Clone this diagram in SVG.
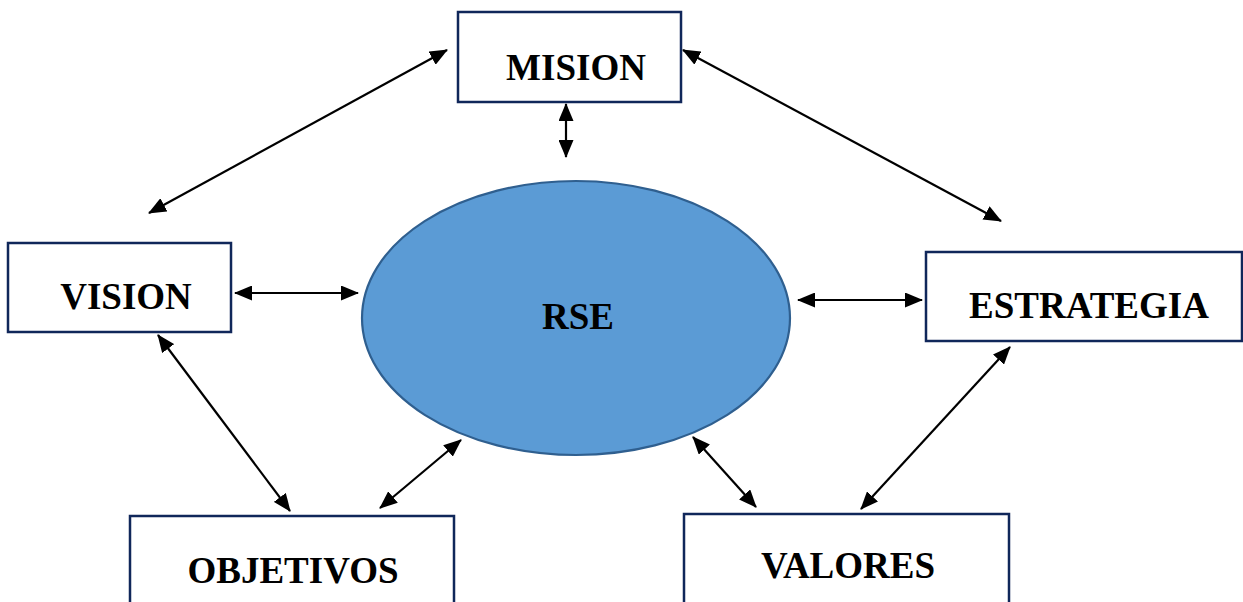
<svg xmlns="http://www.w3.org/2000/svg" width="1243" height="602" viewBox="0 0 1243 602">
<style>
.box{fill:#fff;stroke:#10275A;stroke-width:2.5}
.lbl{font-family:"Liberation Serif","Times New Roman",serif;font-weight:bold;font-size:37px;fill:#000;text-anchor:middle}
.con{stroke:#000;stroke-width:2.2;fill:none;marker-start:url(#ah);marker-end:url(#ah)}
</style>
<defs>
<marker id="ah" markerUnits="userSpaceOnUse" markerWidth="18" markerHeight="15" refX="17" refY="7.5" orient="auto-start-reverse" viewBox="0 0 18 15">
<path d="M0,0 L18,7.5 L0,15 z" fill="#000"/>
</marker>
</defs>
<g id="rse">
<ellipse cx="576" cy="318" rx="214" ry="137" fill="#5B9BD5" stroke="#2F5F8F" stroke-width="2.2"/>
<text class="lbl" x="578" y="329" font-size="35">RSE</text>
</g>
<g id="mision">
<rect class="box" x="458" y="12" width="223" height="90"/>
<text class="lbl" x="576" y="80">MISION</text>
</g>
<g id="vision">
<rect class="box" x="8" y="243" width="223" height="89"/>
<text class="lbl" x="126" y="309">VISION</text>
</g>
<g id="estrategia">
<rect class="box" x="926" y="252" width="316" height="89"/>
<text class="lbl" x="1089" y="318">ESTRATEGIA</text>
</g>
<g id="objetivos">
<rect class="box" x="130" y="516" width="324" height="100"/>
<text class="lbl" x="293" y="583">OBJETIVOS</text>
</g>
<g id="valores">
<rect class="box" x="684" y="514" width="325" height="100"/>
<text class="lbl" x="848" y="578">VALORES</text>
</g>
<g id="connectors">
<line class="con" x1="447" y1="50" x2="149" y2="213"/>
<line class="con" x1="683" y1="50" x2="1001" y2="221"/>
<line class="con" x1="566" y1="104" x2="566" y2="157"/>
<line class="con" x1="235" y1="293" x2="358" y2="293"/>
<line class="con" x1="798" y1="300" x2="922" y2="300"/>
<line class="con" x1="158" y1="335" x2="290" y2="511"/>
<line class="con" x1="461" y1="440" x2="380" y2="508"/>
<line class="con" x1="693" y1="437" x2="756" y2="507"/>
<line class="con" x1="1010" y1="347" x2="861" y2="509"/>
</g>
</svg>
